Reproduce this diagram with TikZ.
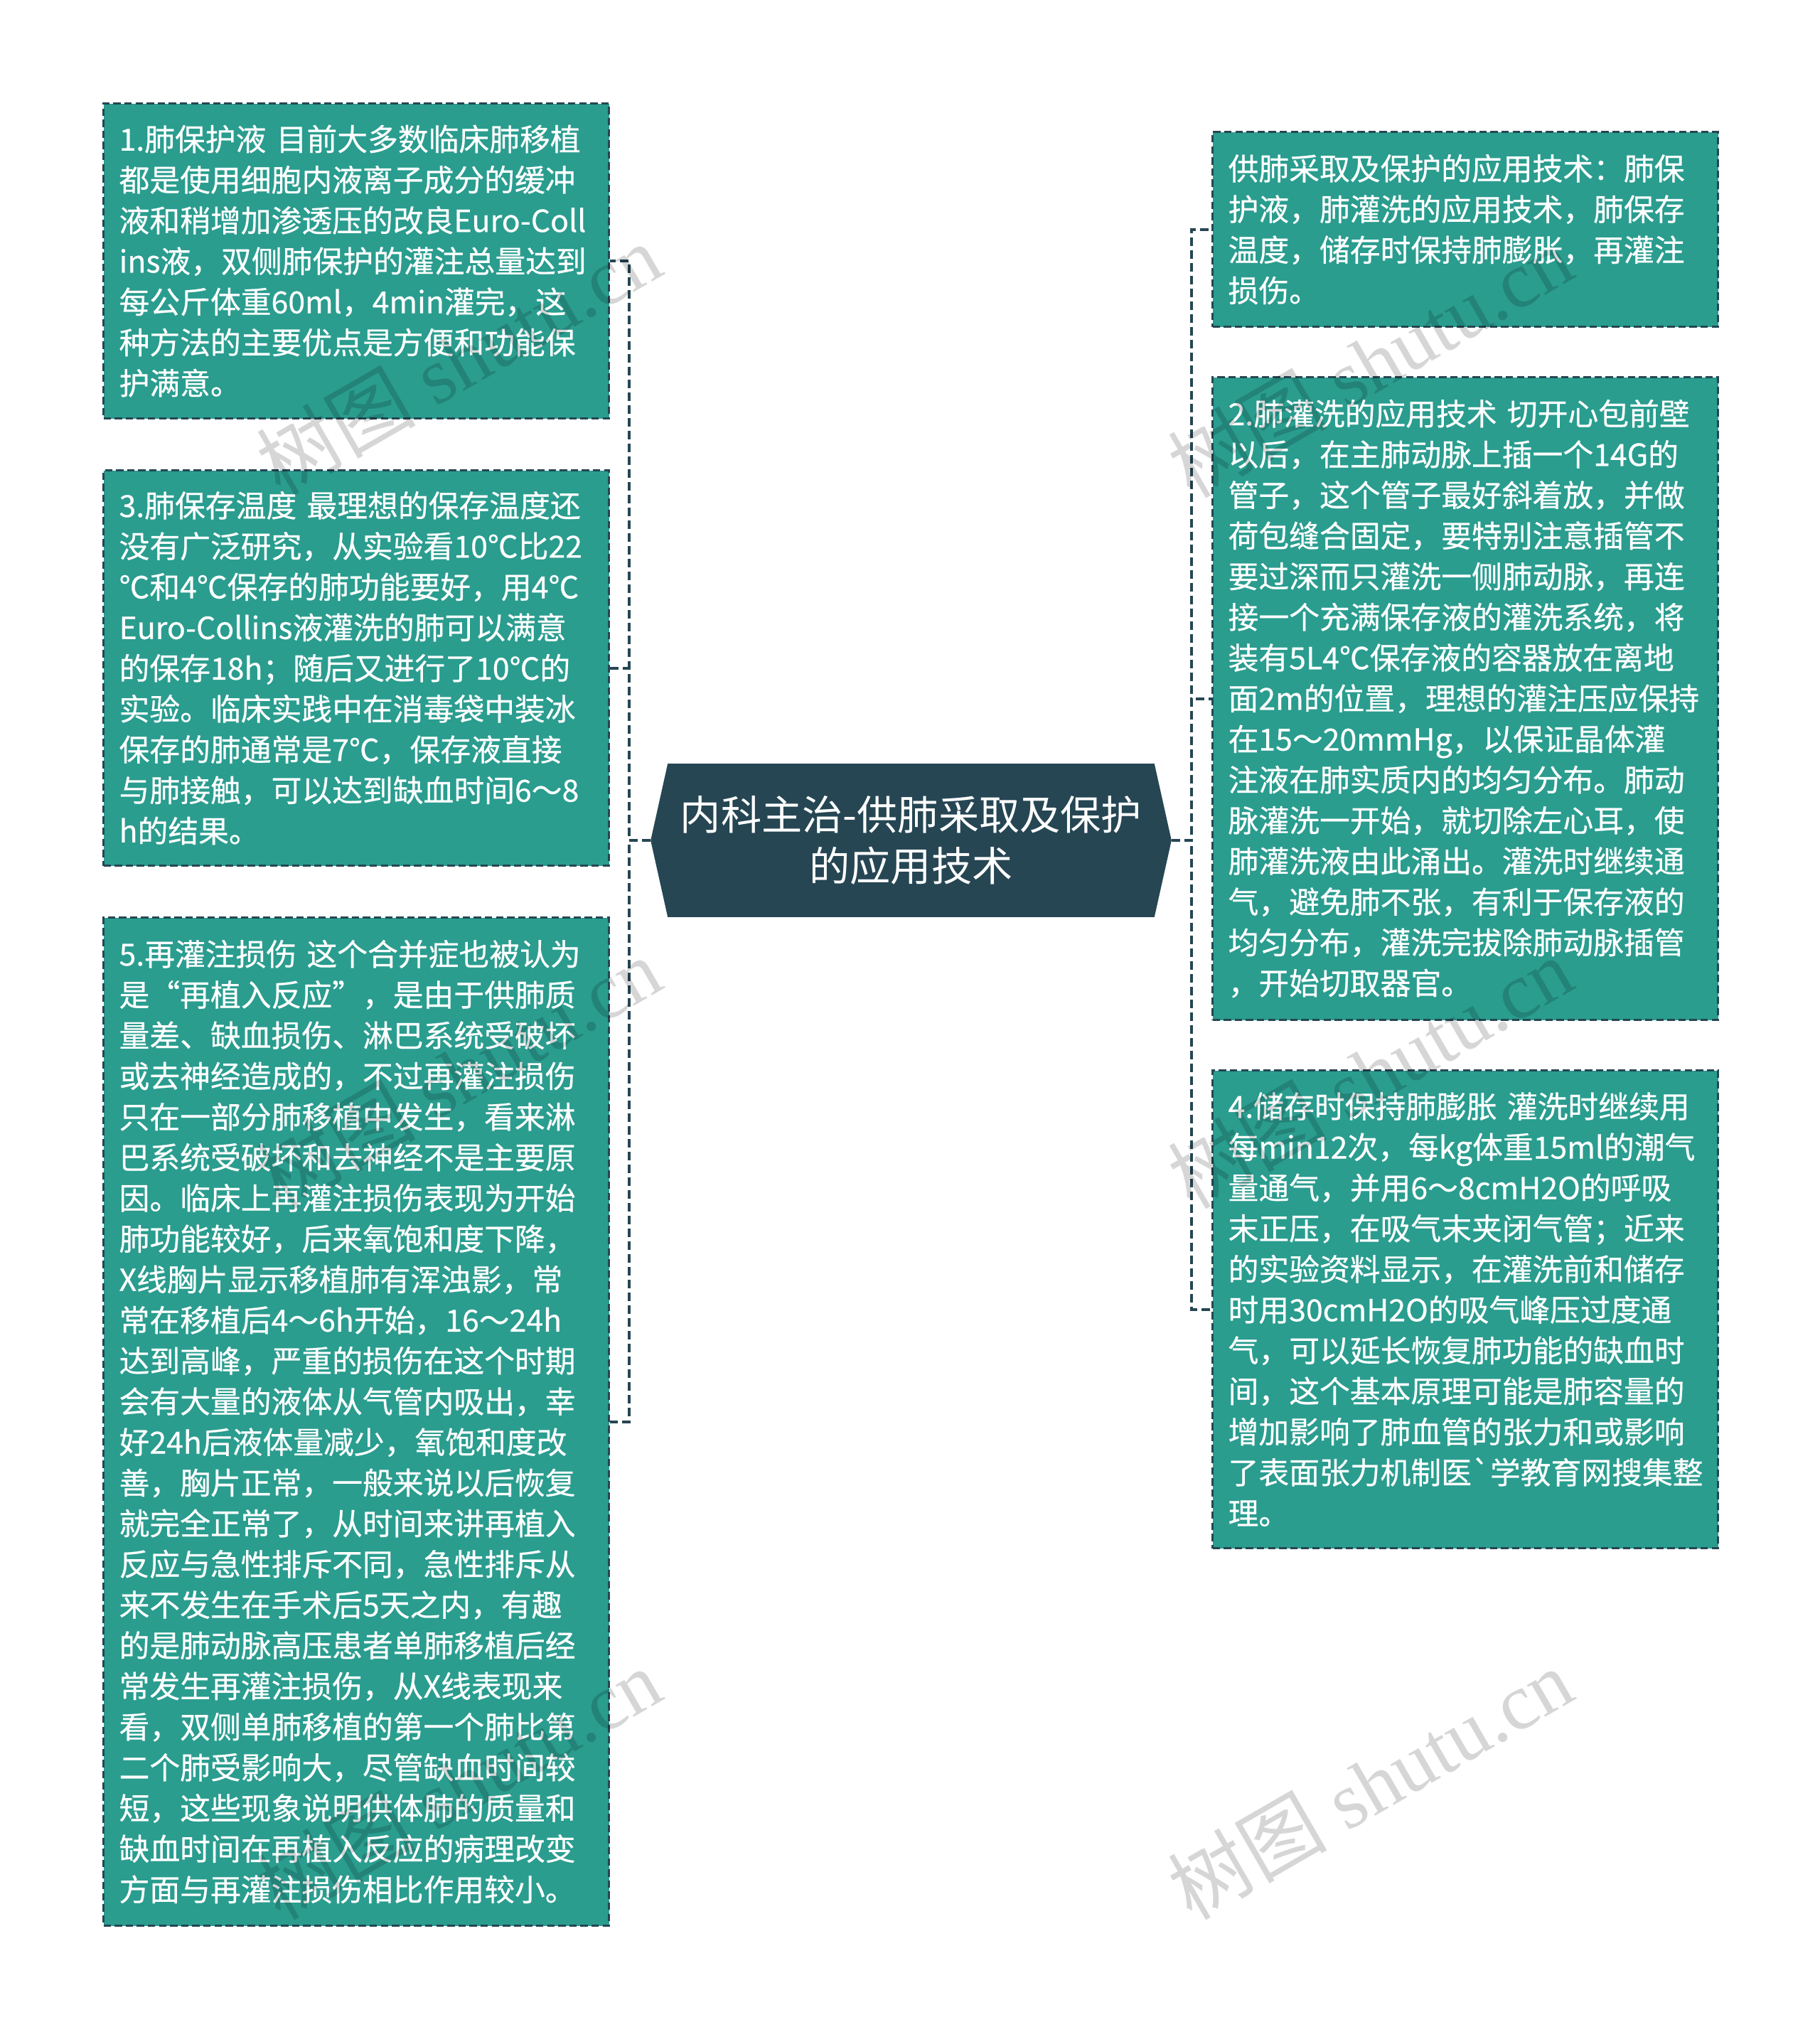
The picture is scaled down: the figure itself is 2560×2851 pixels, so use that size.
\documentclass[tikz,border=0pt]{standalone}
\usepackage{fontspec}
\usetikzlibrary{backgrounds}
\newfontfamily\cjk{Noto Sans CJK SC}[FakeBold=0.5]
\newfontfamily\cjktitle{Noto Sans CJK SC}
\newfontfamily\wmserif{Liberation Serif}
\definecolor{tealbox}{HTML}{2A9D8F}
\definecolor{darkslate}{HTML}{264653}
\exhyphenpenalty=10000
\hyphenpenalty=10000
\begin{document}
\begin{tikzpicture}[x=0.25pt,y=-0.25pt,
  leaf/.style={draw=darkslate, line width=0.8pt, dash pattern=on 2.6pt off 1.3pt,
    fill=tealbox, text=white, font={\cjk\fontsize{10.7pt}{14.3pt}\selectfont},
    align=left, text width=166.75pt, inner xsep=5.5pt, inner ysep=0pt,
    anchor=north west},
  conn/.style={draw=darkslate, line width=1pt, dash pattern=on 3pt off 1.5pt},
  wm/.style={font={\wmserif\fontsize{28pt}{28pt}\selectfont}, text=black, text opacity=0.16, rotate=30, inner sep=0pt}
]
\useasboundingbox (0,0) rectangle (2560,2851);

% center
\node[text=white, font={\cjktitle\fontsize{14.3pt}{18.2pt}\selectfont}, align=center,
  minimum width=170.75pt, minimum height=53.5pt, inner sep=0pt] (c) at (1281.5,1182)
  {内科主治-供肺采取及保护\\的应用技术};
\coordinate (cl) at ([xshift=-6pt]c.west);
\coordinate (cr) at ([xshift=6pt]c.east);
\begin{scope}[on background layer]
  \fill[white] (0,0) rectangle (2560,2851);
  \fill[darkslate] (c.north west) -- (c.north east) -- (cr) -- (c.south east) -- (c.south west) -- (cl) -- cycle;
\end{scope}

% left boxes
\node[leaf, minimum height=110.75pt] (b1) at (144,144) {1.肺保护液~目前大多数临床肺移植\\都是使用细胞内液离子成分的缓冲\\液和稍增加渗透压的改良Euro-Coll\\ins液，双侧肺保护的灌注总量达到\\每公斤体重60ml，4min灌完，这\\种方法的主要优点是方便和功能保\\护满意。};

\node[leaf, minimum height=139pt] (b3) at (144,660) {3.肺保存温度~最理想的保存温度还\\没有广泛研究，从实验看10℃比22\\℃和4℃保存的肺功能要好，用4℃\\Euro-Collins液灌洗的肺可以满意\\的保存18h；随后又进行了10℃的\\实验。临床实践中在消毒袋中装冰\\保存的肺通常是7℃，保存液直接\\与肺接触，可以达到缺血时间6～8\\h的结果。};

\node[leaf, minimum height=354.5pt] (b5) at (144,1289) {5.再灌注损伤~这个合并症也被认为\\是“再植入反应”，是由于供肺质\\量差、缺血损伤、淋巴系统受破坏\\或去神经造成的，不过再灌注损伤\\只在一部分肺移植中发生，看来淋\\巴系统受破坏和去神经不是主要原\\因。临床上再灌注损伤表现为开始\\肺功能较好，后来氧饱和度下降，\\X线胸片显示移植肺有浑浊影，常\\常在移植后4～6h开始，16～24h\\达到高峰，严重的损伤在这个时期\\会有大量的液体从气管内吸出，幸\\好24h后液体量减少，氧饱和度改\\善，胸片正常，一般来说以后恢复\\就完全正常了，从时间来讲再植入\\反应与急性排斥不同，急性排斥从\\来不发生在手术后5天之内，有趣\\的是肺动脉高压患者单肺移植后经\\常发生再灌注损伤，从X线表现来\\看，双侧单肺移植的第一个肺比第\\二个肺受影响大，尽管缺血时间较\\短，这些现象说明供体肺的质量和\\缺血时间在再植入反应的病理改变\\方面与再灌注损伤相比作用较小。};

% right boxes
\node[leaf, minimum height=68.5pt] (r1) at (1704,184) {供肺采取及保护的应用技术：肺保\\护液，肺灌洗的应用技术，肺保存\\温度，储存时保持肺膨胀，再灌注\\损伤。};

\node[leaf, minimum height=226pt] (r2) at (1704,529) {2.肺灌洗的应用技术~切开心包前壁\\以后，在主肺动脉上插一个14G的\\管子，这个管子最好斜着放，并做\\荷包缝合固定，要特别注意插管不\\要过深而只灌洗一侧肺动脉，再连\\接一个充满保存液的灌洗系统，将\\装有5L4℃保存液的容器放在离地\\面2m的位置，理想的灌注压应保持\\在15～20mmHg，以保证晶体灌\\注液在肺实质内的均匀分布。肺动\\脉灌洗一开始，就切除左心耳，使\\肺灌洗液由此涌出。灌洗时继续通\\气，避免肺不张，有利于保存液的\\均匀分布，灌洗完拔除肺动脉插管\\，开始切取器官。};

\node[leaf, minimum height=168pt] (r4) at (1704,1504) {4.储存时保持肺膨胀~灌洗时继续用\\每min12次，每kg体重15ml的潮气\\量通气，并用6～8cmH2O的呼吸\\末正压，在吸气末夹闭气管；近来\\的实验资料显示，在灌洗前和储存\\时用30cmH2O的吸气峰压过度通\\气，可以延长恢复肺功能的缺血时\\间，这个基本原理可能是肺容量的\\增加影响了肺血管的张力和或影响\\了表面张力机制医`学教育网搜集整\\理。};

% connectors
\draw[conn] (cl) -- ++(-30,0) |- (b1.east);
\draw[conn] (cl) -- ++(-30,0) |- (b3.east);
\draw[conn] (cl) -- ++(-30,0) |- (b5.east);
\draw[conn] (cr) -- ++(28,0) |- (r1.west);
\draw[conn] (cr) -- ++(28,0) |- (r2.west);
\draw[conn] (cr) -- ++(28,0) |- (r4.west);

% watermarks
\foreach \wx/\wy [count=\i] in {645/505, 1927/509, 645/1509, 1927/1509, 645/2509, 1927/2509}
  \node[wm, name=wm\i] at (\wx,\wy) {{\cjktitle 树图} shutu.cn};
\end{tikzpicture}
\end{document}
